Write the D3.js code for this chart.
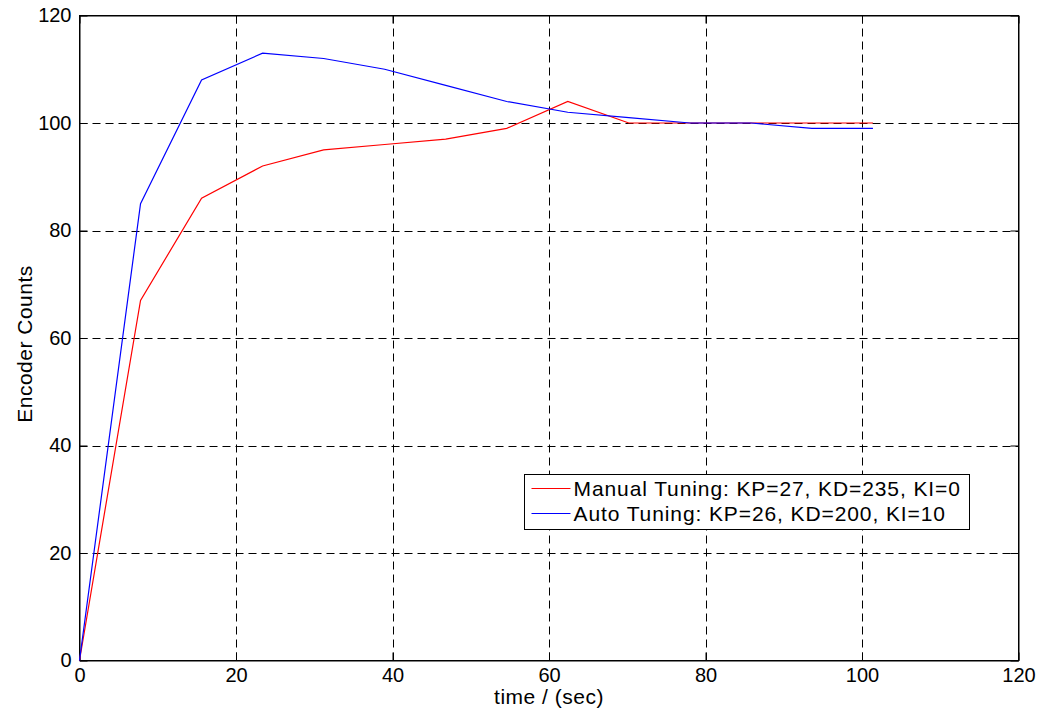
<!DOCTYPE html>
<html>
<head>
<meta charset="utf-8">
<script src="https://cdn.jsdelivr.net/npm/d3@7"></script>
<style>
  body { margin: 0; background: #fff; }
  svg { display: block; font-family: "Liberation Sans", Arial, sans-serif; }
</style>
</head>
<body>
<svg></svg>
<script>
// data
var timeSec = [0, 7.8, 15.6, 23.4, 31.2, 39, 46.8, 54.6, 62.4, 70.2, 78, 85.8, 93.6, 101.4];
var manualCounts = [0, 67, 86, 92, 95, 96, 97, 99, 104, 100, 100, 100, 100, 100];
var autoCounts = [0, 85, 108, 113, 112, 110, 107, 104, 102, 101, 100, 100, 99, 99];
var xTicks = [0, 20, 40, 60, 80, 100, 120];
var yTicks = [0, 20, 40, 60, 80, 100, 120];
var seriesNames = ["Manual Tuning: KP=27, KD=235, KI=0", "Auto Tuning: KP=26, KD=200, KI=10"];
var seriesColors = ["#ff0000", "#0000ff"];

var width = 1037;
var height = 710;
// plot box edges (window.top is taken, so use other names)
var plotL = 79.5, plotR = 1018.5, plotT = 15.5, plotB = 660.5;

var svg = d3.select("svg")
    .attr("width", width)
    .attr("height", height);

var xScale = d3.scaleLinear().domain([0, 120]).range([plotL, plotR]);
var yScale = d3.scaleLinear().domain([0, 120]).range([plotB, plotT]);

// grid lines
var grid = svg.append("g");
grid.selectAll(".vg")
    .data(xTicks.slice(1, -1))
    .enter().append("line")
    .attr("x1", d => Math.round(xScale(d)) + 0.5)
    .attr("x2", d => Math.round(xScale(d)) + 0.5)
    .attr("y1", plotT)
    .attr("y2", plotB)
    .attr("stroke", "#000")
    .attr("stroke-dasharray", "8,5");
grid.selectAll(".hg")
    .data(yTicks.slice(1, -1))
    .enter().append("line")
    .attr("x1", plotL)
    .attr("x2", plotR)
    .attr("y1", d => Math.round(yScale(d)) + 0.5)
    .attr("y2", d => Math.round(yScale(d)) + 0.5)
    .attr("stroke", "#000")
    .attr("stroke-dasharray", "8,5");

// axes, ticks pointing inwards
var xAxis = d3.axisBottom(xScale).tickValues(xTicks).tickSize(-8).tickSizeOuter(0).tickPadding(7);
var yAxis = d3.axisLeft(yScale).tickValues(yTicks).tickSize(-8).tickSizeOuter(0).tickPadding(8);

svg.append("g")
    .attr("transform", "translate(0," + plotB + ")")
    .call(xAxis);
svg.append("g")
    .attr("transform", "translate(" + plotL + ",0)")
    .call(yAxis);

// top and right ticks
svg.append("g")
    .attr("transform", "translate(0," + plotT + ")")
    .call(d3.axisTop(xScale).tickValues(xTicks).tickSize(-8).tickSizeOuter(0).tickFormat(""));
svg.append("g")
    .attr("transform", "translate(" + plotR + ",0)")
    .call(d3.axisRight(yScale).tickValues(yTicks).tickSize(-8).tickSizeOuter(0).tickFormat(""));

svg.selectAll(".domain").attr("stroke", "#000");
svg.selectAll(".tick line").attr("stroke", "#000");
svg.selectAll(".tick text")
    .attr("font-size", "20px")
    .attr("font-family", "Liberation Sans, Arial, sans-serif")
    .attr("fill", "#000");

// box
svg.append("rect")
    .attr("x", plotL).attr("y", plotT)
    .attr("width", plotR - plotL).attr("height", plotB - plotT)
    .attr("fill", "none").attr("stroke", "#000");

// lines
var line = d3.line()
    .x((d, i) => xScale(timeSec[i]))
    .y(d => yScale(d));

svg.append("path")
    .attr("fill", "none")
    .attr("stroke", seriesColors[0])
    .attr("stroke-width", 1.2)
    .attr("d", line(manualCounts));

svg.append("path")
    .attr("fill", "none")
    .attr("stroke", seriesColors[1])
    .attr("stroke-width", 1.2)
    .attr("d", line(autoCounts));

// axis labels
svg.append("text")
    .attr("x", (plotL + plotR) / 2)
    .attr("y", 704)
    .attr("text-anchor", "middle")
    .attr("font-size", "21px")
    .attr("letter-spacing", "0.5px")
    .text("time / (sec)");

svg.append("text")
    .attr("transform", "translate(32," + 344 + ") rotate(-90)")
    .attr("text-anchor", "middle")
    .attr("font-size", "21px")
    .attr("letter-spacing", "0.5px")
    .text("Encoder Counts");

// legend
var legend = svg.append("g").attr("transform", "translate(524.5,474.5)");
legend.append("rect")
    .attr("width", 445)
    .attr("height", 55)
    .attr("fill", "#fff")
    .attr("stroke", "#000");

seriesNames.forEach(function(name, i) {
    var y = 14 + i * 25;
    legend.append("line")
        .attr("x1", 7).attr("x2", 46)
        .attr("y1", y).attr("y2", y)
        .attr("stroke", seriesColors[i]);
    legend.append("text")
        .attr("x", 49)
        .attr("y", y + 7.5)
        .attr("font-size", "21px")
        .attr("letter-spacing", "0.9px")
        .text(name);
});
</script>
</body>
</html>
